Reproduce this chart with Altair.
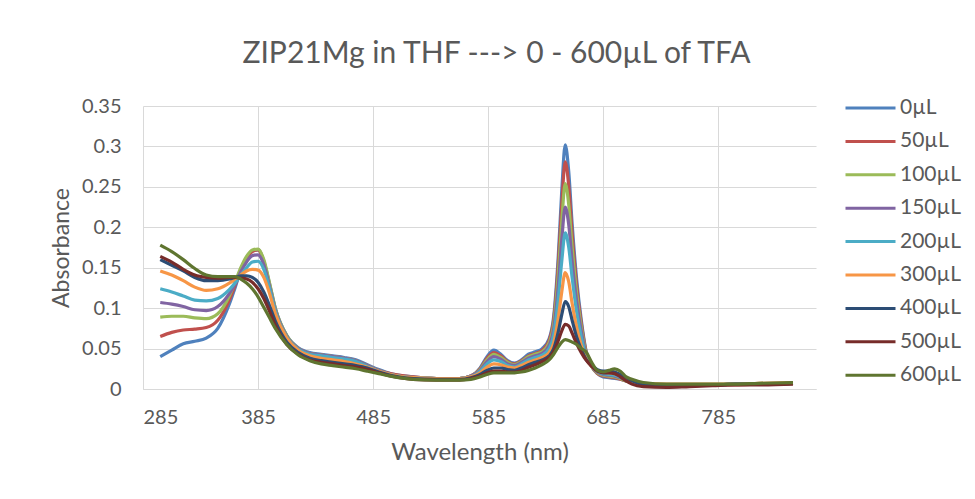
import altair as alt
import pandas as pd

wavelength = [300, 310, 320, 330, 340, 350, 360, 365, 370, 375, 380, 385, 390, 395, 400,
              410, 420, 430, 440, 450, 460, 470, 480, 490, 500, 520, 540, 560, 570, 578,
              584, 590, 596, 602, 608, 614, 620, 626, 632, 638, 642, 646, 649, 652, 655,
              658, 662, 666, 670, 675, 680, 685, 690, 695, 700, 705, 710, 720, 740, 760,
              780, 800, 820, 850]

series_names = ["0µL", "50µL", "100µL", "150µL", "200µL", "300µL", "400µL", "500µL", "600µL"]
series_colors = ["#4F81BD", "#C0504D", "#9BBB59", "#8064A2", "#4BACC6", "#F79646",
                 "#2C4D75", "#772C2A", "#5F7530"]

a_0 = [0.040, 0.048, 0.056, 0.059, 0.063, 0.075, 0.105, 0.125, 0.147, 0.162, 0.171, 0.172, 0.158, 0.130, 0.100,
       0.066, 0.051, 0.045, 0.043, 0.041, 0.039, 0.036, 0.030, 0.024, 0.019, 0.015, 0.013, 0.013, 0.016, 0.026,
       0.040, 0.048, 0.043, 0.035, 0.032, 0.036, 0.043, 0.046, 0.050, 0.062, 0.090, 0.165, 0.245, 0.302, 0.270,
       0.205, 0.135, 0.085, 0.048, 0.028, 0.019, 0.015, 0.014, 0.013, 0.012, 0.010, 0.008, 0.006, 0.005, 0.005,
       0.005, 0.006, 0.006, 0.007]
a_50 = [0.065, 0.070, 0.073, 0.074, 0.076, 0.085, 0.110, 0.128, 0.148, 0.162, 0.170, 0.172, 0.157, 0.128, 0.098,
        0.065, 0.050, 0.044, 0.042, 0.040, 0.038, 0.035, 0.029, 0.023, 0.019, 0.015, 0.013, 0.013, 0.016, 0.025,
        0.038, 0.045, 0.041, 0.034, 0.031, 0.035, 0.041, 0.044, 0.048, 0.060, 0.086, 0.155, 0.228, 0.281, 0.252,
        0.192, 0.127, 0.081, 0.047, 0.028, 0.019, 0.016, 0.015, 0.014, 0.012, 0.010, 0.008, 0.005, 0.004, 0.004,
        0.005, 0.005, 0.006, 0.007]
a_100 = [0.089, 0.090, 0.090, 0.088, 0.087, 0.093, 0.115, 0.132, 0.150, 0.164, 0.172, 0.173, 0.160, 0.131, 0.100,
         0.066, 0.050, 0.044, 0.042, 0.040, 0.038, 0.035, 0.029, 0.023, 0.018, 0.014, 0.013, 0.013, 0.016, 0.024,
         0.036, 0.043, 0.039, 0.033, 0.030, 0.034, 0.040, 0.043, 0.046, 0.057, 0.080, 0.142, 0.207, 0.254, 0.229,
         0.176, 0.118, 0.076, 0.045, 0.028, 0.020, 0.017, 0.016, 0.015, 0.013, 0.010, 0.008, 0.006, 0.005, 0.005,
         0.005, 0.006, 0.006, 0.007]
a_150 = [0.107, 0.105, 0.102, 0.098, 0.097, 0.102, 0.118, 0.130, 0.145, 0.157, 0.165, 0.166, 0.154, 0.127, 0.098,
         0.065, 0.050, 0.044, 0.042, 0.040, 0.038, 0.035, 0.029, 0.023, 0.018, 0.014, 0.013, 0.013, 0.016, 0.023,
         0.034, 0.040, 0.037, 0.031, 0.029, 0.033, 0.038, 0.041, 0.044, 0.054, 0.074, 0.128, 0.184, 0.225, 0.204,
         0.158, 0.108, 0.071, 0.043, 0.028, 0.021, 0.018, 0.017, 0.016, 0.014, 0.011, 0.008, 0.006, 0.005, 0.005,
         0.005, 0.006, 0.006, 0.007]
a_200 = [0.124, 0.120, 0.115, 0.110, 0.109, 0.112, 0.123, 0.131, 0.141, 0.150, 0.157, 0.158, 0.148, 0.124, 0.096,
         0.064, 0.049, 0.043, 0.041, 0.039, 0.037, 0.034, 0.028, 0.022, 0.018, 0.014, 0.013, 0.013, 0.015, 0.022,
         0.031, 0.036, 0.034, 0.029, 0.027, 0.031, 0.036, 0.039, 0.042, 0.050, 0.067, 0.112, 0.158, 0.193, 0.176,
         0.138, 0.095, 0.064, 0.041, 0.028, 0.022, 0.019, 0.018, 0.017, 0.015, 0.012, 0.009, 0.006, 0.005, 0.005,
         0.005, 0.006, 0.006, 0.007]
a_300 = [0.146, 0.141, 0.134, 0.126, 0.122, 0.124, 0.131, 0.136, 0.141, 0.146, 0.148, 0.147, 0.138, 0.118, 0.093,
         0.063, 0.048, 0.041, 0.038, 0.036, 0.034, 0.031, 0.027, 0.022, 0.018, 0.014, 0.013, 0.013, 0.015, 0.020,
         0.027, 0.031, 0.030, 0.027, 0.026, 0.029, 0.033, 0.036, 0.039, 0.045, 0.057, 0.088, 0.120, 0.144, 0.133,
         0.106, 0.076, 0.054, 0.038, 0.028, 0.023, 0.021, 0.020, 0.019, 0.016, 0.013, 0.010, 0.007, 0.006, 0.006,
         0.006, 0.006, 0.007, 0.008]
a_400 = [0.160, 0.153, 0.146, 0.138, 0.134, 0.134, 0.136, 0.138, 0.140, 0.140, 0.138, 0.132, 0.120, 0.103, 0.084,
         0.058, 0.045, 0.038, 0.035, 0.033, 0.031, 0.029, 0.026, 0.021, 0.017, 0.013, 0.012, 0.012, 0.014, 0.018,
         0.023, 0.026, 0.026, 0.024, 0.023, 0.026, 0.030, 0.033, 0.036, 0.041, 0.050, 0.071, 0.092, 0.108, 0.102,
         0.085, 0.064, 0.049, 0.037, 0.029, 0.024, 0.022, 0.022, 0.021, 0.018, 0.014, 0.010, 0.006, 0.005, 0.005,
         0.005, 0.006, 0.006, 0.007]
a_500 = [0.164, 0.157, 0.148, 0.141, 0.138, 0.137, 0.138, 0.138, 0.137, 0.136, 0.132, 0.124, 0.112, 0.096, 0.079,
         0.055, 0.043, 0.036, 0.033, 0.031, 0.029, 0.027, 0.024, 0.020, 0.016, 0.012, 0.011, 0.011, 0.013, 0.016,
         0.020, 0.022, 0.022, 0.021, 0.021, 0.023, 0.027, 0.030, 0.034, 0.039, 0.046, 0.060, 0.072, 0.080, 0.078,
         0.069, 0.056, 0.045, 0.036, 0.028, 0.022, 0.020, 0.020, 0.019, 0.015, 0.010, 0.006, 0.003, 0.002, 0.003,
         0.004, 0.005, 0.005, 0.006]
a_600 = [0.178, 0.170, 0.160, 0.149, 0.141, 0.139, 0.139, 0.139, 0.136, 0.131, 0.124, 0.114, 0.101, 0.088, 0.075,
         0.055, 0.042, 0.035, 0.031, 0.029, 0.027, 0.025, 0.022, 0.019, 0.016, 0.012, 0.011, 0.011, 0.012, 0.015,
         0.018, 0.020, 0.020, 0.020, 0.020, 0.021, 0.023, 0.026, 0.030, 0.036, 0.043, 0.052, 0.058, 0.061, 0.060,
         0.058, 0.055, 0.050, 0.046, 0.033, 0.023, 0.021, 0.023, 0.025, 0.022, 0.015, 0.012, 0.008, 0.006, 0.006,
         0.006, 0.006, 0.007, 0.008]

all_series = [a_0, a_50, a_100, a_150, a_200, a_300, a_400, a_500, a_600]

x_ticks = [285, 385, 485, 585, 685, 785]
y_ticks = [0, 0.05, 0.1, 0.15, 0.2, 0.25, 0.3, 0.35]

rows = []
for order, (name, vals) in enumerate(zip(series_names, all_series)):
    for w, v in zip(wavelength, vals):
        rows.append({"Wavelength": w, "Absorbance": v, "Series": name, "order": order})
df = pd.DataFrame(rows)

FONT = "Lato"
GREY = "#595959"

chart = alt.Chart(df).mark_line(strokeWidth=3.2, interpolate="monotone").encode(
    x=alt.X("Wavelength:Q",
            scale=alt.Scale(domain=[285, 870], nice=False, zero=False),
            axis=alt.Axis(title="Wavelength (nm)", values=x_ticks, grid=True,
                          ticks=False, tickSize=0, labelPadding=18, labelFontSize=20,
                          titleFontSize=24, titleFontWeight="normal",
                          titleY=63, titleBaseline="middle",
                          domainColor="#d9d9d9", gridColor="#d9d9d9")),
    y=alt.Y("Absorbance:Q",
            scale=alt.Scale(domain=[0, 0.35], nice=False),
            axis=alt.Axis(title="Absorbance", values=y_ticks, format=".2~f", grid=True,
                          ticks=False, tickSize=0, labelPadding=22, labelFontSize=20,
                          domain=False,
                          titleFontSize=23, titleFontWeight="normal",
                          titleX=-82, titleY=141.5, titleBaseline="middle",
                          gridColor="#d9d9d9")),
    color=alt.Color("Series:N",
                    scale=alt.Scale(domain=series_names, range=series_colors),
                    sort=series_names,
                    legend=alt.Legend(title=None, orient="none", legendX=701, legendY=-8,
                                      symbolType="stroke", symbolSize=2500,
                                      symbolStrokeWidth=3, labelFontSize=21,
                                      clipHeight=20,
                                      labelOffset=3, rowPadding=12.4, labelColor=GREY)),
    detail="order:O",
    order="order:O",
).properties(
    width=673,
    height=283,
    title=alt.TitleParams("ZIP21Mg in THF ---> 0 - 600µL of TFA", fontSize=30,
                          fontWeight="normal", color=GREY, font=FONT,
                          anchor="middle", dx=17, offset=27),
    autosize=alt.AutoSizeParams(type="none"),
    padding={"left": 135, "top": 98, "right": 151, "bottom": 102},
).configure(
    font=FONT,
    background="white",
).configure_axis(
    labelColor=GREY,
    titleColor=GREY,
    labelFont=FONT,
    titleFont=FONT,
    gridWidth=1,
).configure_view(
    stroke=None,
)

chart.save("out.html", embed_options={"renderer": "svg", "actions": False})
